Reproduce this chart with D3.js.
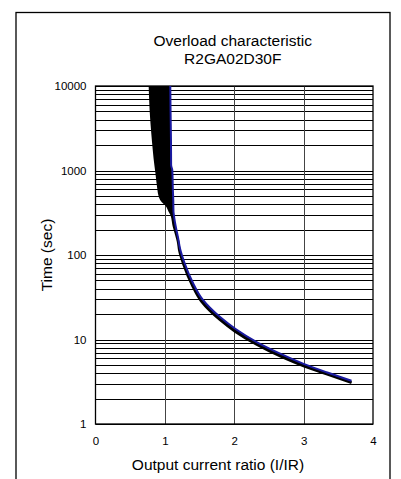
<!DOCTYPE html>
<html>
<head>
<meta charset="utf-8">
<script src="https://cdn.jsdelivr.net/npm/d3@7"></script>
<style>
  html, body { margin: 0; padding: 0; background: #fff; }
  svg { display: block; font-family: "Liberation Sans", Arial, sans-serif; }
</style>
</head>
<body>
<svg id="chart" width="401" height="479"></svg>
<script>
// Overload curve: lower/left bound (black) as [current ratio, time in s]
const lowerBound = [
  [0.785, 10000], [0.80, 5000], [0.833, 2200], [0.86, 1300], [0.882, 935],
  [0.90, 700], [0.93, 490], [0.97, 430], [1.026, 390], [1.07, 330],
  [1.10, 297], [1.13, 220], [1.16, 180], [1.19, 145], [1.21, 112],
  [1.27, 77], [1.39, 44.5], [1.53, 28], [1.79, 17.2], [2.01, 12.5],
  [2.32, 8.75], [2.66, 6.35], [3.0, 4.85], [3.33, 3.9], [3.69, 3.08]
];
// Upper/right bound (blue)
const upperBound = [
  [1.078, 10000], [1.082, 5000], [1.088, 2300], [1.09, 1160], [1.107, 1010],
  [1.115, 600], [1.121, 448], [1.124, 330], [1.13, 297], [1.16, 210],
  [1.19, 160], [1.22, 118], [1.28, 82], [1.40, 47.5], [1.54, 30],
  [1.80, 18.3], [2.02, 13.3], [2.33, 9.25], [2.67, 6.75], [3.0, 5.15],
  [3.33, 4.1], [3.69, 3.25]
];

const xTicks = [0, 1, 2, 3, 4];
const xTickLabels = ["0", "1", "2", "3", "4"];
const yTicks = [1, 10, 100, 1000, 10000];
const yTickLabels = ["1", "10", "100", "1000", "10000"];
const titleLines = ["Overload characteristic", "R2GA02D30F"];
const xTitle = "Output current ratio (I/IR)";
const yTitle = "Time (sec)";

const svg = d3.select("#chart");

// outer frame (open at the bottom edge of the page)
svg.append("rect")
  .attr("x", 16).attr("y", 12.5)
  .attr("width", 374).attr("height", 480)
  .attr("fill", "none").attr("stroke", "#000").attr("stroke-width", 1.3);

const plot = { left: 95.5, right: 373, top: 86, bottom: 424 };

const x = d3.scaleLinear().domain([0, 4]).range([plot.left, plot.right]);
const y = d3.scaleLog().domain([1, 10000]).range([plot.bottom, plot.top]);

// horizontal grid: every 1..9 step within each decade
svg.append("g")
  .selectAll("line")
  .data(y.ticks())
  .join("line")
  .attr("x1", plot.left).attr("x2", plot.right)
  .attr("y1", d => Math.round(y(d)) + 0.5).attr("y2", d => Math.round(y(d)) + 0.5)
  .attr("stroke", "#000").attr("stroke-width", 1);

// vertical grid
svg.append("g")
  .selectAll("line")
  .data(xTicks.slice(1, -1))
  .join("line")
  .attr("x1", d => Math.round(x(d)) + 0.5).attr("x2", d => Math.round(x(d)) + 0.5)
  .attr("y1", plot.top).attr("y2", plot.bottom)
  .attr("stroke", "#444").attr("stroke-width", 1);

// plot frame
svg.append("rect")
  .attr("x", plot.left).attr("y", plot.top)
  .attr("width", plot.right - plot.left).attr("height", plot.bottom - plot.top)
  .attr("fill", "none").attr("stroke", "#000").attr("stroke-width", 1.3);

// axes
const xAxis = d3.axisBottom(x)
  .tickValues(xTicks)
  .tickFormat((d, i) => xTickLabels[i])
  .tickSize(0).tickPadding(12.5);
svg.append("g")
  .attr("transform", `translate(0,${plot.bottom})`)
  .call(xAxis)
  .call(g => g.select(".domain").remove())
  .call(g => g.selectAll("text").attr("font-size", 11.5).attr("fill", "#000")
    .attr("font-family", "Liberation Sans, Arial, sans-serif"));

const yAxis = d3.axisLeft(y)
  .tickValues(yTicks)
  .tickFormat((d, i) => yTickLabels[i])
  .tickSize(0).tickPadding(9);
svg.append("g")
  .attr("transform", `translate(${plot.left},0)`)
  .call(yAxis)
  .call(g => g.select(".domain").remove())
  .call(g => g.selectAll("text").attr("font-size", 11.5).attr("fill", "#000")
    .attr("font-family", "Liberation Sans, Arial, sans-serif"));

// band between the two bounds
const bandPts = lowerBound.concat(upperBound.slice().reverse());
svg.append("path")
  .attr("d", d3.line().x(d => x(d[0])).y(d => y(d[1]))(bandPts) + "Z")
  .attr("fill", "#000").attr("stroke", "none");

const curve = d3.line().x(d => x(d[0])).y(d => y(d[1])).curve(d3.curveMonotoneY);

svg.append("path")
  .attr("d", curve(lowerBound))
  .attr("fill", "none").attr("stroke", "#000").attr("stroke-width", 2.6);

svg.append("path")
  .attr("d", curve(upperBound))
  .attr("fill", "none").attr("stroke", "#1a1aa0").attr("stroke-width", 2);

// titles
const cx = (plot.left + plot.right) / 2 - 1.5;
svg.append("g")
  .selectAll("text")
  .data(titleLines)
  .join("text")
  .attr("x", cx).attr("y", (d, i) => 46 + i * 17.5)
  .attr("text-anchor", "middle")
  .attr("font-size", 15.5)
  .text(d => d);

svg.append("text")
  .attr("x", 218).attr("y", 470)
  .attr("text-anchor", "middle")
  .attr("font-size", 15.5)
  .text(xTitle);

svg.append("text")
  .attr("transform", `translate(51.5,${(plot.top + plot.bottom) / 2}) rotate(-90)`)
  .attr("text-anchor", "middle")
  .attr("font-size", 15.5)
  .text(yTitle);
</script>
</body>
</html>
